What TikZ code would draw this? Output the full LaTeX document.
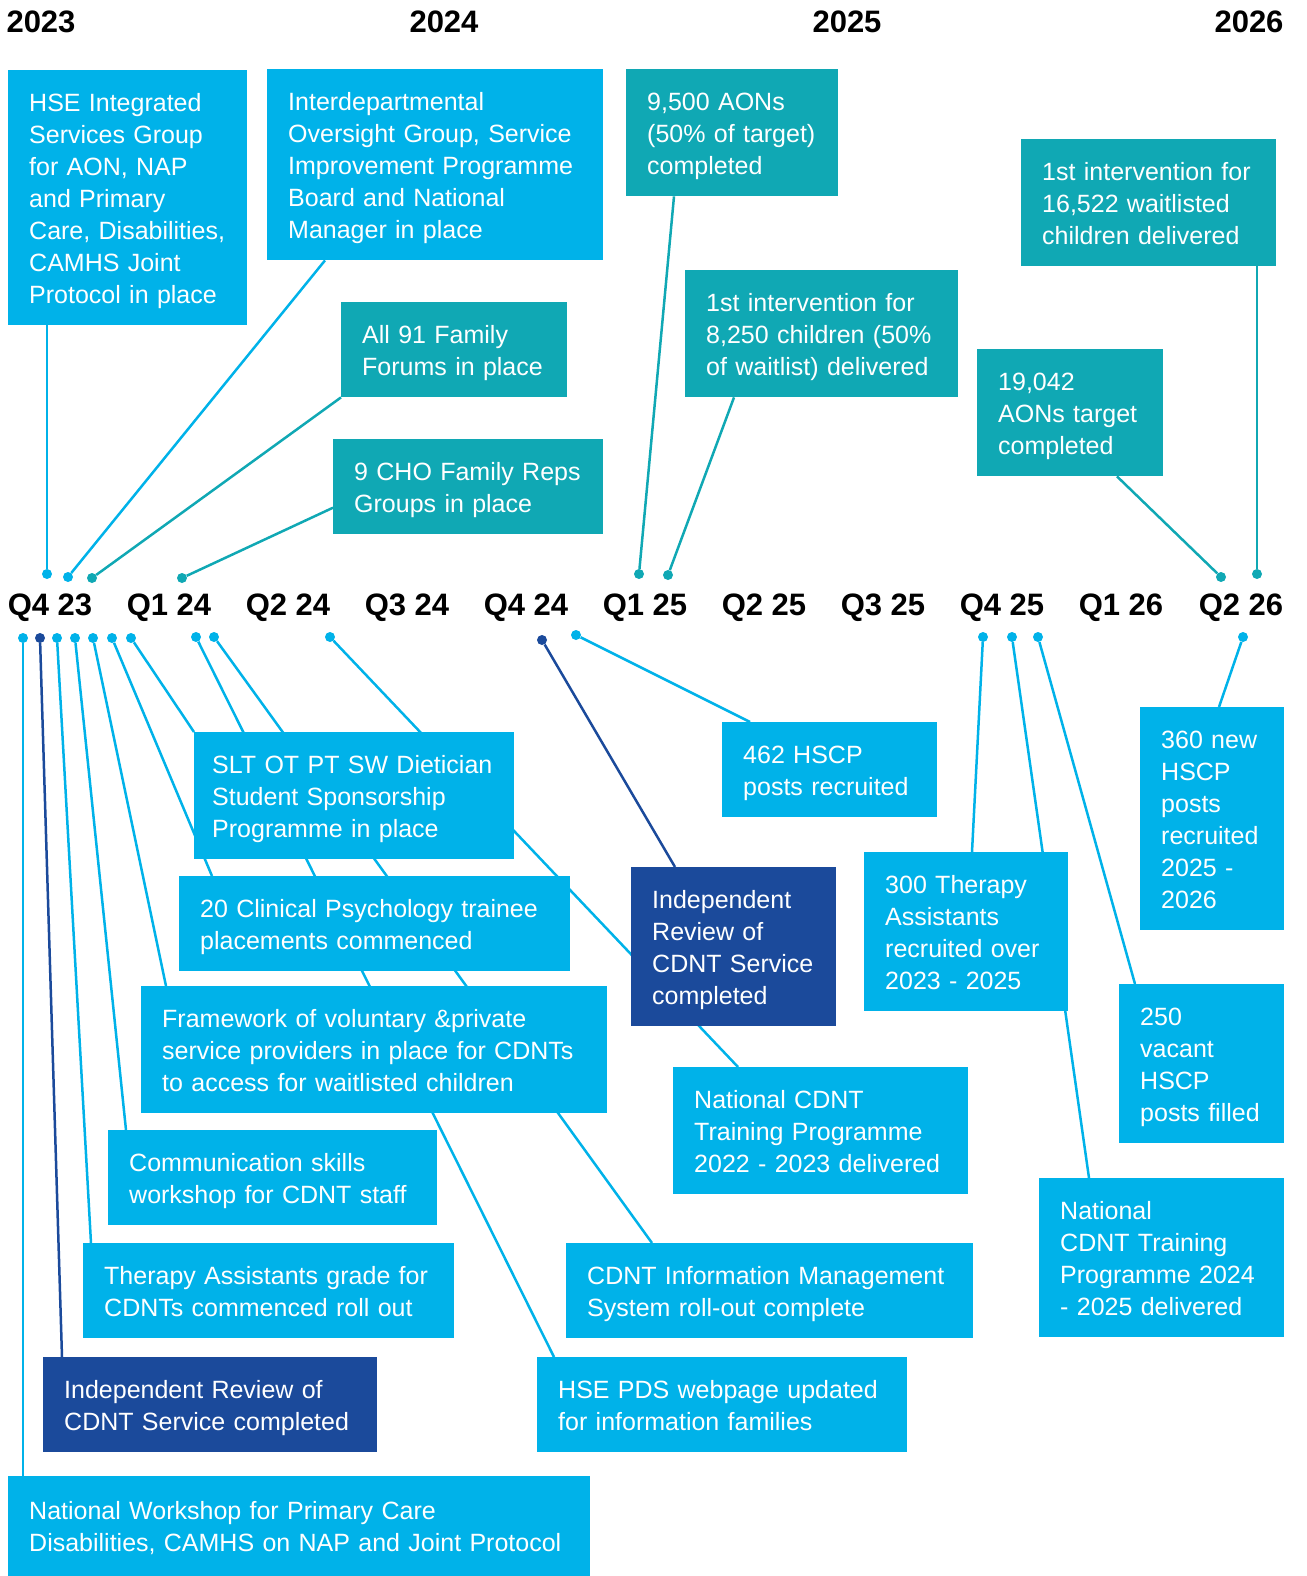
\documentclass[tikz,border=0pt]{standalone}
\usepackage{fontspec}
\setmainfont{Liberation Sans}
\pgfdeclarelayer{bg}
\pgfsetlayers{bg,main}
\definecolor{cyanbox}{HTML}{00B2E9}
\definecolor{tealbox}{HTML}{10A8B4}
\definecolor{darkbox}{HTML}{1B4A9B}
\begin{document}
\begin{tikzpicture}[x=1pt,y=-1pt,line cap=butt,line join=miter]
	\tikzset{box/.style={anchor=north west,inner xsep=21pt,inner ysep=15.5pt,align=left,text=white,
			font=\fontsize{25}{32}\selectfont,execute at begin node=\noindent\rule{0pt}{25.4pt},
			execute at end node=\rule[-6.6pt]{0pt}{6.6pt}},
		yr/.style={anchor=base,font=\fontsize{31}{36}\selectfont\bfseries},
		dot/.style={circle,inner sep=0pt,minimum size=10pt},
		link/.style={line width=2.5pt}
	}
	\useasboundingbox (0,0) rectangle (1306,1576);
	\node[yr] (y23) at (41,33) {2023};
	\node[yr] (y24) at (444,33) {2024};
	\node[yr] (y25) at (847,33) {2025};
	\node[yr] (y26) at (1249,33) {2026};
	\node[yr] (q1) at (50,615) {Q4 23};
	\node[yr] (q2) at (169,615) {Q1 24};
	\node[yr] (q3) at (288,615) {Q2 24};
	\node[yr] (q4) at (407,615) {Q3 24};
	\node[yr] (q5) at (526,615) {Q4 24};
	\node[yr] (q6) at (645,615) {Q1 25};
	\node[yr] (q7) at (764,615) {Q2 25};
	\node[yr] (q8) at (883,615) {Q3 25};
	\node[yr] (q9) at (1002,615) {Q4 25};
	\node[yr] (q10) at (1121,615) {Q1 26};
	\node[yr] (q11) at (1241,615) {Q2 26};
	
	\node[box,fill=cyanbox,text width=197pt] (hse) at (8,70) {HSE Integrated\\Services Group\\for AON, NAP\\and Primary\\Care, Disabilities,\\CAMHS Joint\\Protocol in place};
	\node[box,fill=cyanbox,text width=294pt] (idg) at (267,69) {Interdepartmental\\Oversight Group, Service\\Improvement Programme\\Board and National\\Manager in place};
	\node[box,fill=tealbox,text width=184pt] (forums) at (341,302) {All 91 Family\\Forums in place};
	\node[box,fill=tealbox,text width=228pt] (reps) at (333,439) {9 CHO Family Reps\\Groups in place};
	\node[box,fill=tealbox,text width=170pt] (aon1) at (626,69) {9,500 AONs\\(50\% of target)\\completed};
	\node[box,fill=tealbox,text width=231pt] (int1) at (685,270) {1st intervention for\\8,250 children (50\%\\of waitlist) delivered};
	\node[box,fill=tealbox,text width=213pt] (int2) at (1021,139) {1st intervention for\\16,522 waitlisted\\children delivered};
	\node[box,fill=tealbox,text width=144pt] (aon2) at (977,349) {19,042\\AONs target\\completed};
	
	\node[box,fill=cyanbox,inner xsep=18pt,text width=284pt] (slt) at (194,732) {SLT OT PT SW Dietician\\Student Sponsorship\\Programme in place};
	\node[box,fill=cyanbox,text width=349pt] (psy) at (179,876) {20 Clinical Psychology trainee\\placements commenced};
	\node[box,fill=cyanbox,text width=424pt] (frame) at (141,986) {Framework of voluntary \&private\\service providers in place for CDNTs\\to access for waitlisted children};
	\node[box,fill=cyanbox,text width=287pt] (comm) at (108,1130) {Communication skills\\workshop for CDNT staff};
	\node[box,fill=cyanbox,text width=329pt] (ta) at (83,1243) {Therapy Assistants grade for\\CDNTs commenced roll out};
	\node[box,fill=darkbox,text width=292pt] (rev1) at (43,1357) {Independent Review of\\CDNT Service completed};
	\node[box,fill=cyanbox,text width=540pt,minimum height=100pt] (work) at (8,1476) {National Workshop for Primary Care\\Disabilities, CAMHS on NAP and Joint Protocol};
	\node[box,fill=cyanbox,text width=173pt] (hscp1) at (722,722) {462 HSCP\\posts recruited};
	\node[box,fill=darkbox,text width=163pt] (rev2) at (631,867) {Independent\\Review of\\CDNT Service\\completed};
	\node[box,fill=cyanbox,text width=253pt] (ntp1) at (673,1067) {National CDNT\\Training Programme\\2022 - 2023 delivered};
	\node[box,fill=cyanbox,text width=365pt] (cims) at (566,1243) {CDNT Information Management\\System roll-out complete};
	\node[box,fill=cyanbox,text width=328pt] (pds) at (537,1357) {HSE PDS webpage updated\\for information families};
	\node[box,fill=cyanbox,text width=162pt] (ta300) at (864,852) {300 Therapy\\Assistants\\recruited over\\2023 - 2025};
	\node[box,fill=cyanbox,text width=102pt] (hscp360) at (1140,707) {360 new\\HSCP\\posts\\recruited\\2025 -\\2026};
	\node[box,fill=cyanbox,text width=123pt] (vac) at (1119,984) {250\\vacant\\HSCP\\posts filled};
	\node[box,fill=cyanbox,text width=203pt] (ntp2) at (1039,1178) {National\\CDNT Training\\Programme 2024\\- 2025 delivered};
	
	\node[dot,fill=cyanbox] (d1) at (47,574) {};
	\node[dot,fill=cyanbox] (d2) at (68,577) {};
	\node[dot,fill=tealbox] (d3) at (92,578) {};
	\node[dot,fill=tealbox] (d4) at (182,578) {};
	\node[dot,fill=tealbox] (d5) at (639,574) {};
	\node[dot,fill=tealbox] (d6) at (668,575) {};
	\node[dot,fill=tealbox] (d7) at (1257,574) {};
	\node[dot,fill=tealbox] (d8) at (1221,577) {};
	
	\node[dot,fill=cyanbox] (e1) at (23,638) {};
	\node[dot,fill=darkbox] (e2) at (40,638) {};
	\node[dot,fill=cyanbox] (e3) at (57,638) {};
	\node[dot,fill=cyanbox] (e4) at (75,638) {};
	\node[dot,fill=cyanbox] (e5) at (93,638) {};
	\node[dot,fill=cyanbox] (e6) at (112,638) {};
	\node[dot,fill=cyanbox] (e7) at (131,638) {};
	\node[dot,fill=cyanbox] (e8) at (196,637) {};
	\node[dot,fill=cyanbox] (e9) at (214,637) {};
	\node[dot,fill=cyanbox] (e10) at (330,637) {};
	\node[dot,fill=darkbox] (e11) at (542,640) {};
	\node[dot,fill=cyanbox] (e12) at (576,635) {};
	\node[dot,fill=cyanbox] (e13) at (983,637) {};
	\node[dot,fill=cyanbox] (e14) at (1012,637) {};
	\node[dot,fill=cyanbox] (e15) at (1038,637) {};
	\node[dot,fill=cyanbox] (e16) at (1243,637) {};
	
	\begin{pgfonlayer}{bg}
		\draw[link,cyanbox] (d1) -- (d1 |- hse.south);
		\draw[link,cyanbox] (d2) -- ([xshift=58pt]idg.south west);
		\draw[link,tealbox] (d3) -- (forums.south west);
		\draw[link,tealbox] (d4) -- ([yshift=-21pt]reps.west);
		\draw[link,tealbox] (d5) -- ([xshift=48pt]aon1.south west);
		\draw[link,tealbox] (d6) -- ([xshift=49pt]int1.south west);
		\draw[link,tealbox] (d7) -- (d7 |- int2.south);
		\draw[link,tealbox] (d8) -- ([xshift=140pt]aon2.south west);
		
		\draw[link,cyanbox] (e1) -- (e1 |- work.north);
		\draw[link,darkbox] (e2) -- ([xshift=19pt]rev1.north west);
		\draw[link,cyanbox] (e3) -- ([xshift=8pt]ta.north west);
		\draw[link,cyanbox] (e4) -- ([xshift=18pt]comm.north west);
		\draw[link,cyanbox] (e5) -- ([xshift=25pt]frame.north west);
		\draw[link,cyanbox] (e6) -- ([xshift=33pt]psy.north west);
		\draw[link,cyanbox] (e7) -- (slt.north west);
		\draw[link,cyanbox] (e8) -- ([xshift=17pt]pds.north west);
		\draw[link,cyanbox] (e9) -- ([xshift=86pt]cims.north west);
		\draw[link,cyanbox] (e10) -- ([xshift=65pt]ntp1.north west);
		\draw[link,darkbox] (e11) -- ([xshift=44pt]rev2.north west);
		\draw[link,cyanbox] (e12) -- ([xshift=28pt]hscp1.north west);
		\draw[link,cyanbox] (e13) -- ([xshift=108pt]ta300.north west);
		\draw[link,cyanbox] (e14) -- ([xshift=50pt]ntp2.north west);
		\draw[link,cyanbox] (e15) -- ([xshift=16pt]vac.north west);
		\draw[link,cyanbox] (e16) -- ([xshift=79pt]hscp360.north west);
	\end{pgfonlayer}
\end{tikzpicture}
\end{document}
